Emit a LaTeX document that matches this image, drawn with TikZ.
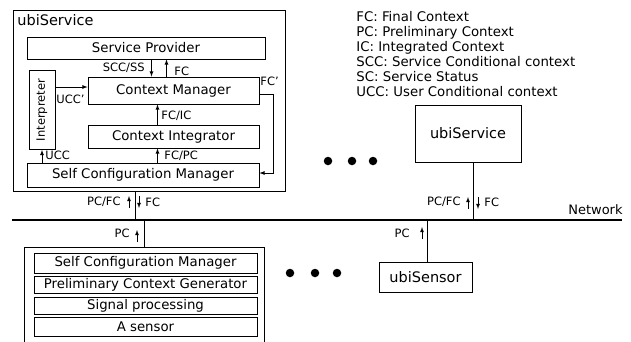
\documentclass[tikz,border=0pt]{standalone}
\usepackage{fontspec}
\setmainfont{DejaVu Sans}
\usetikzlibrary{positioning}

\begin{document}
\begin{tikzpicture}[x=1pt, y=-1pt, > = latex, line width=0.8pt,
    blk/.style={draw, inner sep=0pt, font=\fontsize{13.3}{15}\selectfont},
    lbl/.style={inner sep=1pt, font=\fontsize{11.5}{13}\selectfont},
    dot/.style={circle, fill, inner sep=0pt, minimum size=8.5pt}]
    \clip (0,0) rectangle (631,341);

    % ubiService (left)
    \node[draw, minimum width=272pt, minimum height=181pt] (svc) at (149,100.5) {};
    \node[anchor=west, inner sep=0pt, font=\fontsize{14.5}{16}\selectfont] (svct) at (17,20) {ubiService};
    \node[blk, minimum width=238pt, minimum height=22pt] (sp) at (146,48) {Service Provider};
    \node[blk, minimum width=171pt, minimum height=27pt] (cm) at (173.5,90.5) {Context Manager};
    \node[blk, minimum width=171pt, minimum height=23pt] (ci) at (173.5,136.5) {Context Integrator};
    \node[blk, minimum width=232pt, minimum height=24pt] (scm) at (143,175) {Self Configuration Manager};
    \node[blk, rotate=90, minimum width=79pt, minimum height=26pt, font=\fontsize{11.5}{12}\selectfont] (intp) at (42,110) {Interpreter};

    \draw[->] ([xshift=-22pt]cm.north |- sp.south) -- ([xshift=-22pt]cm.north);
    \node[lbl, anchor=east] (sccl) at (146,68) {SCC/SS};
    \draw[->] ([xshift=-7pt]cm.north) -- ([xshift=-7pt]cm.north |- sp.south);
    \node[lbl, anchor=west] (fcl) at (173,71) {FC};
    \draw[->] ([xshift=-16pt]ci.north) -- ([xshift=-16pt]cm.south);
    \node[lbl, anchor=west] (fcicl) at (160,116) {FC/IC};
    \draw[->] ([xshift=-16pt]ci.south |- scm.north) -- ([xshift=-16pt]ci.south);
    \node[lbl, anchor=west] (fcpcl) at (163,156) {FC/PC};
    \draw[->] (intp.west |- scm.north) -- (intp.west);
    \node[lbl, anchor=west] (uccl) at (44,155) {UCC};
    \draw[->] ([yshift=3.5pt]cm.west -| intp.south) -- ([yshift=3.5pt]cm.west);
    \node[lbl, anchor=west] (ucc2l) at (55,99) {UCC'};
    \draw[->] ([yshift=-4pt]cm.east) -- ++(14,0) |- ([yshift=2pt]scm.east);
    \node[lbl, anchor=west] (fc2l) at (259,81) {FC'};

    % legend
    \node[anchor=north west, inner sep=0pt, align=left, font=\fontsize{13.3}{15}\selectfont] (leg) at (356,11)
        {FC: Final Context\\PC: Preliminary Context\\IC: Integrated Context\\SCC: Service Conditional context\\SC: Service Status\\UCC: User Conditional context};

    % ubiService (right)
    \node[draw, minimum width=106pt, minimum height=57pt, font=\fontsize{14.5}{16}\selectfont] (svc2) at (468,133.5) {ubiService};

    % network
    \coordinate (netl) at (12,220);
    \coordinate (netr) at (622,220);
    \draw[line width=2.2pt] (netl) -- (netr);
    \node[anchor=south east, inner sep=1pt, font=\fontsize{13}{15}\selectfont] (netn) at (624,216) {Network};

    \draw ([xshift=-14pt]svc.south) -- ([xshift=-14pt]svc.south |- netl);
    \draw[->] (129,208) -- (129,196);
    \draw[->] (139,196) -- (139,208);
    \node[lbl, anchor=east] (pcfcl) at (122,202) {PC/FC};
    \node[lbl, anchor=west] (fcl2) at (144,202) {FC};

    \draw ([xshift=5pt]svc2.south) -- ([xshift=5pt]svc2.south |- netl);
    \draw[->] (468,209) -- (468,197);
    \draw[->] (478,197) -- (478,209);
    \node[lbl, anchor=east] (pcfcr) at (462,202) {PC/FC};
    \node[lbl, anchor=west] (fcr) at (483,202) {FC};

    % ubiSensor (left)
    \node[draw, minimum width=240pt, minimum height=110pt] (sbox) at (144,302) {};
    \node[blk, minimum width=223pt, minimum height=20pt] (s1) at (145.5,263) {Self Configuration Manager};
    \node[blk, minimum width=223pt, minimum height=17pt] (s2) at (145.5,284.5) {Preliminary Context Generator};
    \node[blk, minimum width=223pt, minimum height=17pt] (s3) at (145.5,305.5) {Signal processing};
    \node[blk, minimum width=223pt, minimum height=19pt] (s4) at (145.5,326.5) {A sensor};
    \draw (sbox.north |- netl) -- (sbox.north);
    \draw[->] (137,242) -- (137,230);
    \node[lbl, anchor=east] (pcl) at (131,233) {PC};

    % ubiSensor (right)
    \node[draw, minimum width=93pt, minimum height=30pt, font=\fontsize{14.5}{16}\selectfont] (sens) at (425.5,277) {ubiSensor};
    \draw ([xshift=1.5pt]sens.north |- netl) -- ([xshift=1.5pt]sens.north);
    \draw[->] (422,239) -- (422,227);
    \node[lbl, anchor=east] (pcr) at (411,233) {PC};

    % dots
    \foreach \dx [count=\i] in {328,352,373}
        \node[dot] (dt\i) at (\dx,161) {};
    \foreach \dx [count=\i] in {290,315,337}
        \node[dot] (db\i) at (\dx,273) {};
\end{tikzpicture}
\end{document}
